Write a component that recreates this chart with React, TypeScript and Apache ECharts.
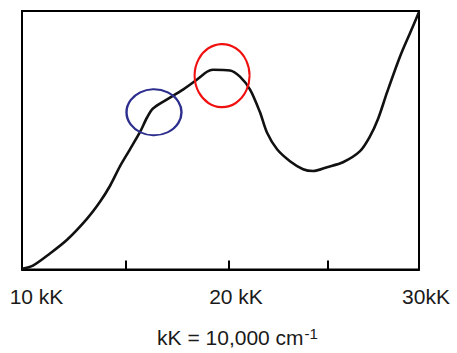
import React, { useEffect, useRef } from "react";
import * as echarts from "echarts";

// wavenumber in kK (1 kK = 1000 cm^-1)
const energyKK = [
  10.0, 10.55, 11.41, 12.27, 13.27, 13.93, 14.43, 14.94, 15.44, 15.94, 16.3, 16.6,
  17.31, 18.11, 18.82, 19.32, 19.62, 20.48, 20.98, 21.49, 21.99, 22.34, 22.85, 23.5,
  24.16, 24.66, 25.37, 26.17, 27.03, 27.53, 27.93, 28.39, 29.04, 29.55, 30.0,
];
// relative absorbance (0 = bottom of frame, 100 = top)
const absorbance = [
  0.3, 1.5, 6.2, 11.5, 19.6, 26.2, 32.3, 40.0, 46.5, 53.1, 58.8, 62.3,
  65.8, 69.6, 73.5, 76.5, 77.3, 77.0, 74.6, 69.6, 60.8, 53.0, 46.5, 41.9,
  38.8, 38.1, 39.6, 41.5, 45.8, 51.5, 58.1, 68.5, 82.3, 91.5, 99.6,
];

const tickValues = [15.25, 20.43, 25.4];
const labelValues = [10, 20, 30];
const labelTexts = ["10 kK", "20 kK", "30kK"];
const axisTitle = "kK = 10,000 cm";
const axisTitleSup = "-1";

// annotation ellipses (centres in data coordinates)
const shoulderMark = [16.65, 60.8];
const peakMark = [20.08, 75.0];

const FONT = "'Liberation Sans', Arial, Helvetica, sans-serif";
const TXT = "#1a1a1a";

export default function App() {
  const ref = useRef<HTMLDivElement>(null);

  useEffect(() => {
    document.body.style.margin = "0";
    if (!ref.current) return;
    const chart = echarts.init(ref.current, undefined, { renderer: "svg" });
    const data = energyKK.map((x, i) => [x, absorbance[i]]);
    chart.setOption({
      animation: false,
      backgroundColor: "#ffffff",
      grid: {
        left: 22,
        right: 38,
        top: 11,
        bottom: 82,
        show: true,
        borderColor: "#000",
        borderWidth: 2,
        backgroundColor: "transparent",
      },
      xAxis: {
        type: "value",
        min: 10,
        max: 30,
        axisLine: { show: true, lineStyle: { color: "#000", width: 2 } },
        axisTick: {
          show: true,
          inside: true,
          length: 9,
          customValues: tickValues,
          lineStyle: { color: "#000", width: 2 },
        },
        splitLine: { show: false },
        axisLabel: {
          show: true,
          customValues: labelValues,
          margin: 16,
          color: TXT,
          fontFamily: FONT,
          fontSize: 21,
          formatter: (v: number) => {
            const i = labelValues.indexOf(v);
            return i < 0 ? "" : `{l${i}|${labelTexts[i]}}`;
          },
          rich: {
            l0: { fontSize: 21, fontFamily: FONT, color: TXT, padding: [0, 0, 0, 29] },
            l1: { fontSize: 21, fontFamily: FONT, color: TXT, padding: [0, 0, 0, 31] },
            l2: { fontSize: 21, fontFamily: FONT, color: TXT, padding: [0, 0, 0, 14] },
          },
        },
        name: `{n|${axisTitle}}{s|${axisTitleSup}}`,
        nameLocation: "middle",
        nameGap: 56,
        nameTextStyle: {
          fontFamily: FONT,
          fontSize: 21,
          color: TXT,
          rich: {
            n: { fontSize: 21, fontFamily: FONT, color: TXT, padding: [0, 0, 0, 34] },
            s: { fontSize: 15, fontFamily: FONT, color: TXT, padding: [0, 0, 9, 1] },
          },
        },
      },
      yAxis: {
        type: "value",
        min: 0,
        max: 100,
        axisLine: { show: false },
        axisTick: { show: false },
        axisLabel: { show: false },
        splitLine: { show: false },
      },
      series: [
        {
          type: "line",
          data,
          smooth: 0.3,
          showSymbol: false,
          symbol: "none",
          lineStyle: { color: "#111", width: 2.6 },
          silent: true,
          markPoint: {
            silent: true,
            symbol: "circle",
            label: { show: false },
            data: [
              {
                coord: shoulderMark,
                symbolSize: [55, 46],
                itemStyle: { color: "rgba(0,0,0,0)", borderColor: "#2d2f8f", borderWidth: 2.2 },
              },
              {
                coord: peakMark,
                symbolSize: [55, 63],
                itemStyle: { color: "rgba(0,0,0,0)", borderColor: "#f01010", borderWidth: 2.2 },
              },
            ],
          },
        },
      ],
    });
    return () => chart.dispose();
  }, []);

  return <div ref={ref} style={{ width: 457, height: 353 }} />;
}
